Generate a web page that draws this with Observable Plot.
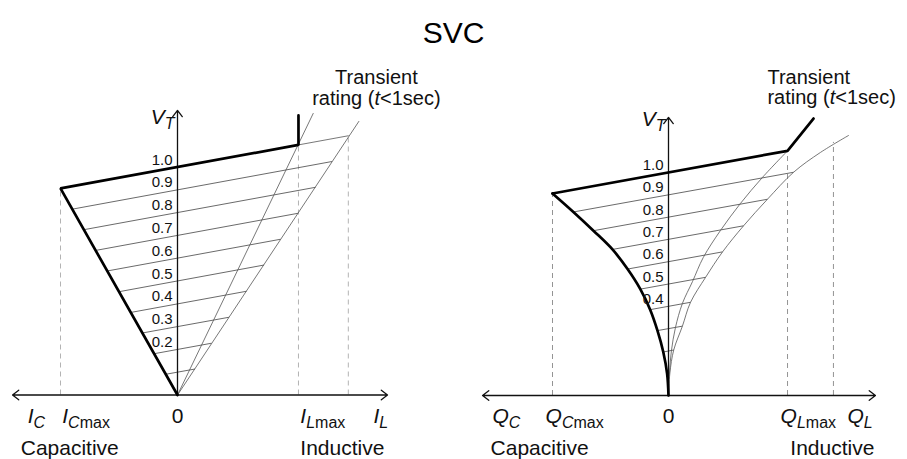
<!DOCTYPE html>
<html><head><meta charset="utf-8">
<script src="https://cdn.jsdelivr.net/npm/d3@7"></script>
<script src="https://cdn.jsdelivr.net/npm/@observablehq/plot@0.6"></script>
<style>
body{margin:0;background:#fff;}
#fig{position:relative;width:907px;height:459px;font-family:"Liberation Sans",Arial,sans-serif;overflow:hidden;}
#title{position:absolute;left:0;top:0;width:907px;height:50px;text-align:center;font-size:30px;line-height:34px;padding-top:16px;box-sizing:border-box;}
#left{position:absolute;left:0;top:50px;}
#right{position:absolute;left:453px;top:50px;}
</style></head>
<body><div id="fig"><div id="title">SVC</div><div id="left"></div><div id="right"></div></div>
<script>
// ---------- LEFT PANEL: V–I characteristic (I in p.u. of I_Cmax, V_T in p.u.) ----------
const leftAxisExtent = [-1.41, 1.795, 1.248];          // I left end, I right end, V top
const leftTickLevels = [0.2, 0.3, 0.4, 0.5, 0.6, 0.7, 0.8, 0.9, 1.0];
const thinLevels = [0.1, 0.2, 0.3, 0.4, 0.5, 0.6, 0.7, 0.8, 0.9];
const leftThinI1 = [-0.10, -0.20, -0.30, -0.40, -0.50, -0.60, -0.70, -0.80, -0.90];
const leftThinV1 = [0.091, 0.181, 0.272, 0.362, 0.453, 0.544, 0.634, 0.725, 0.815];
const leftThinI2 = [0.15, 0.29, 0.44, 0.59, 0.74, 0.88, 1.03, 1.18, 1.32];
const leftThinV2 = [0.114, 0.227, 0.341, 0.455, 0.570, 0.683, 0.797, 0.911, 1.024];
const leftThickI = [0, -1, 1.034, 1.034];
const leftThickV = [0, 0.906, 1.097, 1.226];
const leftTopExtI = [1.034, 1.46];
const leftTopExtV = [1.097, 1.137];
const leftInnerI = [0, 1.16];
const leftInnerV = [0, 1.235];
const leftOuterI = [0, 1.55];
const leftOuterV = [0, 1.20];
const leftDashI = [-1, 1.034, 1.46];
const leftDashTop = [0.906, 1.097, 1.137];
const leftAxisLabels = ["{I}_{C}", "{I}_{C}_[max]", "{I}_{L}_[max]", "{I}_{L}"];
const leftAxisLabelI = [-1.28, -0.985, 1.05, 1.675];
const leftRegionI = [-1.34, 1.05];
const leftTransientPos = [1.70, 1.365, 1.272];          // I, V line 1, V line 2
const leftVTPos = [0, 1.19];

// ---------- RIGHT PANEL: V–Q characteristic (Q in p.u. of Q_Cmax) ----------
const rightAxisExtent = [-1.603, 1.784, 1.247];
const rightTickLevels = [0.4, 0.5, 0.6, 0.7, 0.8, 0.9, 1.0];
const rightThinQ1 = [-0.012, -0.045, -0.095, -0.158, -0.243, -0.353, -0.483, -0.647, -0.82];
const rightThinV1 = [0.098, 0.195, 0.291, 0.385, 0.477, 0.567, 0.655, 0.739, 0.823];
const rightThinQ2 = [0.012, 0.045, 0.12, 0.19, 0.32, 0.466, 0.647, 0.853, 1.078];
const rightThinV2 = [0.101, 0.204, 0.311, 0.418, 0.530, 0.644, 0.761, 0.880, 1.001];
const capCurveQ = [0, -0.012, -0.045, -0.095, -0.158, -0.243, -0.353, -0.483, -0.647, -0.82, -1];
const capCurveV = [0, 0.098, 0.195, 0.291, 0.385, 0.477, 0.567, 0.655, 0.739, 0.823, 0.906];
const rightTopQ = [-1, 1.026, 1.25];
const rightTopV = [0.906, 1.097, 1.242];
const innerCurveQ = [0, 0.008, 0.025, 0.06, 0.12, 0.207, 0.30, 0.448, 0.62, 0.81, 1.026];
const innerCurveV = [0, 0.10, 0.20, 0.305, 0.413, 0.511, 0.619, 0.74, 0.861, 0.978, 1.097];
const outerCurveQ = [0, 0.012, 0.045, 0.12, 0.19, 0.32, 0.466, 0.647, 0.853, 1.078, 1.31, 1.552];
const outerCurveV = [0, 0.101, 0.204, 0.311, 0.418, 0.530, 0.644, 0.761, 0.880, 1.001, 1.09, 1.166];
const rightDashQ = [-1, 1.026, 1.422];
const rightDashTop = [0.906, 1.097, 1.135];
const rightAxisLabels = ["{Q}_{C}", "{Q}_{C}_[max]", "{Q}_{L}_[max]", "{Q}_{L}"];
const rightAxisLabelQ = [-1.517, -1.06, 0.966, 1.543];
const rightRegionQ = [-1.534, 1.05];
const rightTransientPos = [0.853, 1.399, 1.305];
const rightVTPos = [0, 1.21];

const regionLabels = ["Capacitive", "Inductive"];
const transientLines = ["Transient", "rating ({t}<1sec)"];

const FONT = '"Liberation Sans", Arial, sans-serif';
const pts = (xs, ys) => xs.map((x, i) => ({x, y: ys[i]}));
const segs = (x1, y1, x2, y2) => x1.map((v, i) => ({x1: v, y1: y1[i], x2: x2[i], y2: y2[i]}));

function richText(svg) {
  d3.select(svg).selectAll("text").each(function () {
    const s = this.textContent;
    if (!/[{_]/.test(s)) return;
    const tokens = s.match(/_\{[^}]*\}|_\[[^\]]*\]|\{[^}]*\}|[^_{]+/g);
    this.textContent = "";
    let sub = false;
    for (const t of tokens) {
      let txt, italic = false, isSub = false;
      if (t.startsWith("_{")) { txt = t.slice(2, -1); italic = true; isSub = true; }
      else if (t.startsWith("_[")) { txt = t.slice(2, -1); isSub = true; }
      else if (t.startsWith("{")) { txt = t.slice(1, -1); italic = true; }
      else txt = t;
      const ts = d3.select(this).append("tspan").text(txt);
      if (italic) ts.attr("font-style", "italic");
      if (isSub) { ts.attr("font-size", "16px"); if (!sub) ts.attr("dy", 5); sub = true; }
      else if (sub) { ts.attr("dy", -5); sub = false; }
    }
  });
}

function panel(o) {
  const thin = segs(o.thinX1, o.thinY1, o.thinX2, o.thinY2);
  const dash = o.dashX.map((x, i) => ({x, top: o.dashTop[i]}));
  const axes = [
    {x1: 0, y1: 0, x2: o.axis[0], y2: 0},
    {x1: 0, y1: 0, x2: o.axis[1], y2: 0},
    {x1: 0, y1: 0, x2: 0, y2: o.axis[2]}
  ];
  const axLab = o.axisLabels.map((t, i) => ({t, x: o.axisLabelX[i]}));
  const regLab = regionLabels.map((t, i) => ({t, x: o.regionX[i]}));
  const trLab = transientLines.map((t, i) => ({t, x: o.transient[0], y: o.transient[i + 1]}));
  const svg = Plot.plot({
    width: o.width, height: 409, margin: 0,
    style: {fontFamily: FONT, background: "white", overflow: "visible"},
    x: {domain: o.xDomain, range: o.xRange, axis: null},
    y: {domain: [0, 1.3], range: o.yRange, axis: null},
    marks: [
      Plot.ruleX(dash, {x: "x", y1: 0, y2: "top", stroke: o.dashColor, strokeWidth: 0.9, strokeDasharray: "5,4"}),
      Plot.link(thin, {x1: "x1", y1: "y1", x2: "x2", y2: "y2", stroke: "#444", strokeWidth: 0.8}),
      ...o.thinPaths.map(p => Plot.line(p, {x: "x", y: "y", stroke: "#555", strokeWidth: 0.8, curve: o.curve})),
      Plot.arrow(axes, {x1: "x1", y1: "y1", x2: "x2", y2: "y2", stroke: "#111", strokeWidth: 1.3, headLength: 9, headAngle: 75}),
      ...o.thickPaths.map(p => Plot.line(p.data, {x: "x", y: "y", stroke: "#000", strokeWidth: 2.7, curve: p.curve, strokeLinejoin: "miter"})),
      Plot.text(o.ticks, {x: 0, y: d => d, text: d => d.toFixed(1), textAnchor: "end", lineAnchor: "bottom", dx: -5, dy: -2.5, fontSize: 15, fill: "#111"}),
      Plot.text(axLab, {x: "x", y: 0, text: "t", textAnchor: "start", lineAnchor: "bottom", dy: 27.5, fontSize: 21, fill: "#111"}),
      Plot.text(["0"], {x: 0, y: 0, text: d => d, textAnchor: "middle", lineAnchor: "bottom", dy: 27.5, fontSize: 21, fill: "#111"}),
      Plot.text(regLab, {x: "x", y: 0, text: "t", textAnchor: "start", lineAnchor: "bottom", dy: 59.5, fontSize: 21, fill: "#111"}),
      Plot.text(trLab, {x: "x", y: "y", text: "t", textAnchor: o.transientAnchor, lineAnchor: "bottom", fontSize: 20, fill: "#111"}),
      Plot.text(["{V}_{T}"], {x: o.vt[0], y: o.vt[1], text: d => d, textAnchor: "end", lineAnchor: "bottom", dx: -3, fontSize: 21, fill: "#111"})
    ]
  });
  richText(svg);
  return svg;
}

const left = panel({
  width: 453, xDomain: [-1.5, 2], xRange: [177 - 1.5 * 117, 177 + 2 * 117], yRange: [344.5, 344.5 - 1.3 * 228],
  axis: leftAxisExtent, ticks: leftTickLevels,
  thinX1: leftThinI1, thinY1: leftThinV1, thinX2: leftThinI2, thinY2: leftThinV2,
  thinPaths: [pts(leftTopExtI, leftTopExtV), pts(leftInnerI, leftInnerV), pts(leftOuterI, leftOuterV)],
  curve: "linear",
  thickPaths: [{data: pts(leftThickI, leftThickV), curve: "linear"}],
  dashX: leftDashI, dashTop: leftDashTop, dashColor: "#aaa",
  axisLabels: leftAxisLabels, axisLabelX: leftAxisLabelI, regionX: leftRegionI,
  transient: leftTransientPos, transientAnchor: "middle", vt: leftVTPos
});
const right = panel({
  width: 454, xDomain: [-1.8, 2], xRange: [215 - 1.8 * 116, 215 + 2 * 116], yRange: [345, 345 - 1.3 * 223],
  axis: rightAxisExtent, ticks: rightTickLevels,
  thinX1: rightThinQ1, thinY1: rightThinV1, thinX2: rightThinQ2, thinY2: rightThinV2,
  thinPaths: [pts(innerCurveQ, innerCurveV), pts(outerCurveQ, outerCurveV)],
  curve: "catmull-rom",
  thickPaths: [{data: pts(capCurveQ, capCurveV), curve: "catmull-rom"}, {data: pts(rightTopQ, rightTopV), curve: "linear"}],
  dashX: rightDashQ, dashTop: rightDashTop, dashColor: "#888",
  axisLabels: rightAxisLabels, axisLabelX: rightAxisLabelQ, regionX: rightRegionQ,
  transient: rightTransientPos, transientAnchor: "start", vt: rightVTPos
});
document.getElementById("left").appendChild(left);
document.getElementById("right").appendChild(right);
</script></body></html>
